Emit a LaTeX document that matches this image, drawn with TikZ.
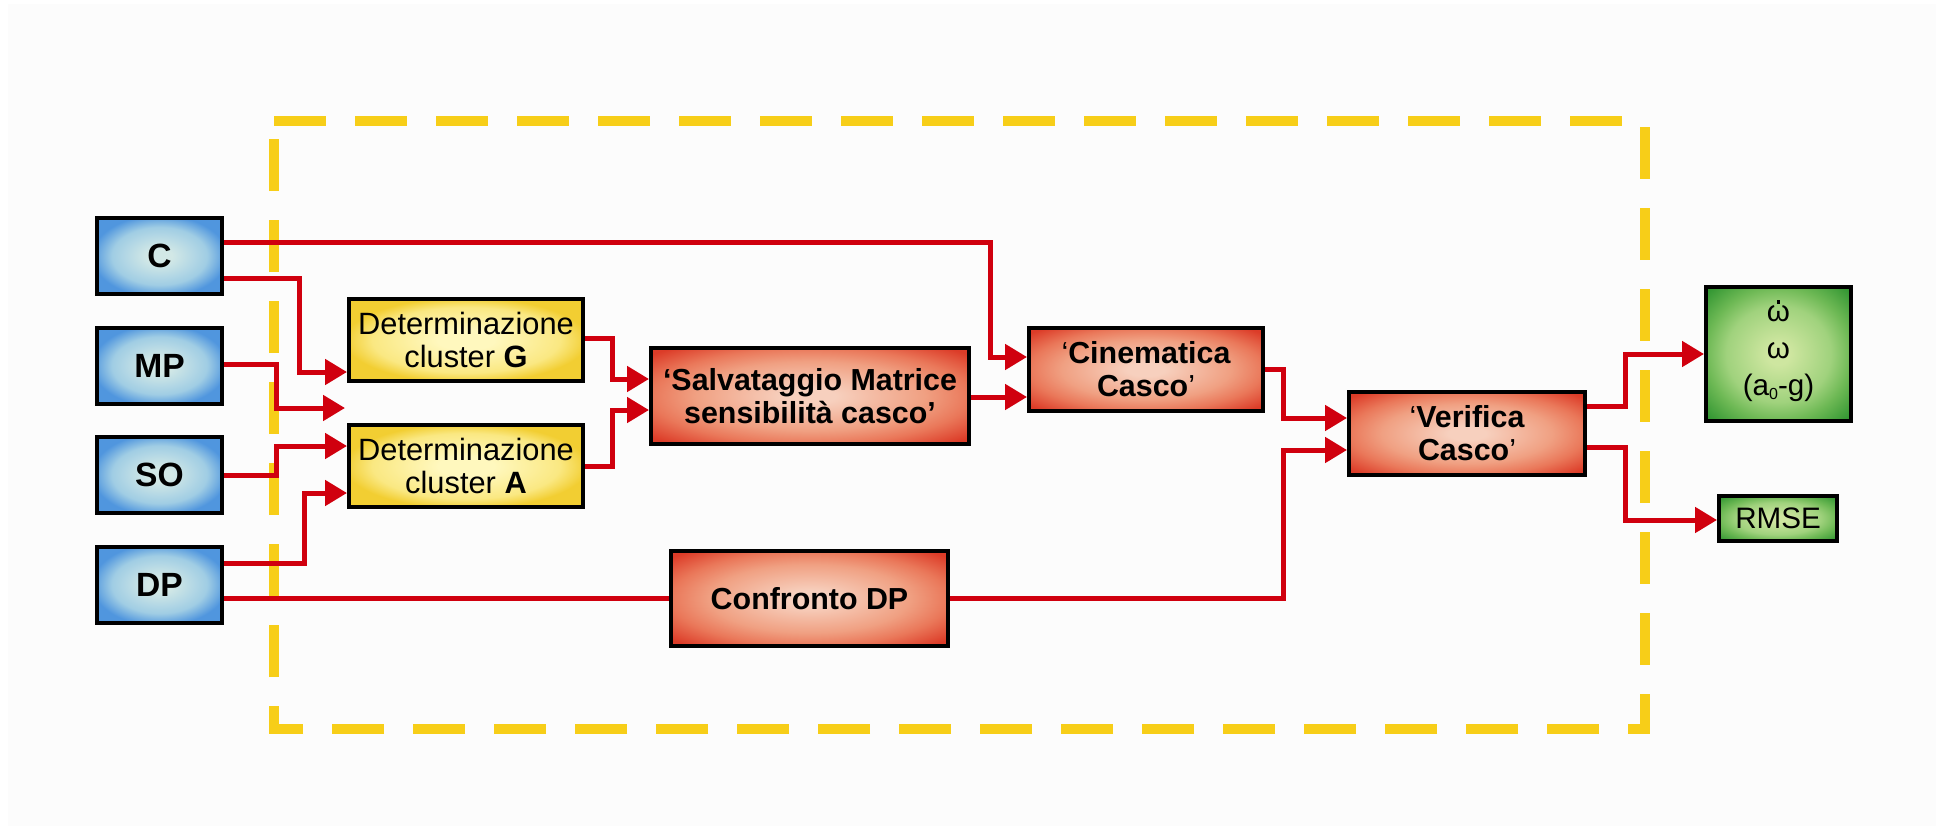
\documentclass[tikz,border=0pt]{standalone}
\usepackage{fontspec}
\setmainfont{Liberation Sans}
\usetikzlibrary{arrows.meta}
\definecolor{bgc}{RGB}{252,252,252}
\definecolor{dashy}{RGB}{247,206,24}
\definecolor{lred}{RGB}{208,0,14}
\definecolor{rIn}{RGB}{247,208,190}
\definecolor{rMid}{RGB}{240,160,130}
\definecolor{rEdge}{RGB}{234,120,90}
\definecolor{rOut}{RGB}{220,60,40}
\definecolor{yIn}{RGB}{255,248,190}
\definecolor{yMid}{RGB}{250,232,130}
\definecolor{yOut}{RGB}{242,206,50}
\definecolor{bIn}{RGB}{210,232,230}
\definecolor{bMid}{RGB}{160,205,228}
\definecolor{bOut}{RGB}{80,150,222}
\definecolor{gIn}{RGB}{206,230,160}
\definecolor{gMid}{RGB}{160,210,125}
\definecolor{gEdge}{RGB}{110,185,85}
\definecolor{gOut}{RGB}{50,150,50}
\pgfdeclareradialshading{redsh}{\pgfpoint{0bp}{0bp}}{color(0bp)=(rIn); color(4bp)=(rIn); color(18bp)=(rMid); color(25bp)=(rEdge); color(33bp)=(rOut); color(50bp)=(rOut)}
\pgfdeclareradialshading{yelsh}{\pgfpoint{0bp}{0bp}}{color(0bp)=(yIn); color(6bp)=(yIn); color(20bp)=(yMid); color(26bp)=(yOut); color(50bp)=(yOut)}
\pgfdeclareradialshading{bluesh}{\pgfpoint{0bp}{0bp}}{color(0bp)=(bIn); color(5bp)=(bIn); color(19bp)=(bMid); color(27bp)=(bOut); color(50bp)=(bOut)}
\pgfdeclareradialshading{greensh}{\pgfpoint{0bp}{0bp}}{color(0bp)=(gIn); color(4bp)=(gIn); color(18bp)=(gMid); color(25bp)=(gEdge); color(34bp)=(gOut); color(50bp)=(gOut)}
\newcommand{\omdot}{{\ooalign{ω\cr\hidewidth\raisebox{0.62em}{\rule{0.13em}{0.13em}}\hidewidth\cr}}}
\tikzset{
  box/.style={draw=black, line width=2pt, rectangle, inner sep=0pt, align=center},
  inbox/.style={box, shading=bluesh, minimum width=62.5pt, minimum height=38pt, font=\fontsize{16.8}{18}\selectfont\bfseries},
  ybox/.style={box, shading=yelsh, minimum width=117pt, minimum height=41pt, font=\fontsize{15.4}{16.2}\selectfont},
  rbox/.style={box, shading=redsh, font=\fontsize{15.2}{16.4}\selectfont\bfseries},
  gbox/.style={box, shading=greensh, font=\fontsize{14.8}{18.5}\selectfont},
  conn/.style={draw=lred, line width=2.5pt},
  arr/.style={conn, -{Triangle[length=11pt,width=12.5pt]}}
}
\begin{document}
\begin{tikzpicture}[x=0.5pt,y=-0.5pt]
\useasboundingbox (0,0) rectangle (1943,830);
\fill[white] (0,0) rectangle (1943,830);
\fill[bgc] (8,4) rectangle (1936,826);
% dashed frame
\draw[dashy, line width=5pt, dash pattern=on 26pt off 14.5pt] (274,121) -- (1645,121) -- (1645,729) -- (274,729) -- cycle;
% input nodes
\node[inbox] (C)  at (159.5,256) {C};
\node[inbox] (MP) at (159.5,365.5) {MP};
\node[inbox] (SO) at (159.5,474.5) {SO};
\node[inbox] (DP) at (159.5,584.5) {DP};
% cluster nodes
\node[ybox] (DG) at (466,340) {Determinazione\\cluster \textbf{G}};
\node[ybox] (DA) at (466,466) {Determinazione\\cluster \textbf{A}};
% processing nodes
\node[rbox, minimum width=159pt, minimum height=48pt] (SM) at (810,396) {‘Salvataggio Matrice\\sensibilità casco’};
\node[rbox, minimum width=117pt, minimum height=41.5pt] (CC) at (1146,369.5) {{\mdseries‘}Cinematica\\Casco{\mdseries’}};
\node[rbox, minimum width=118pt, minimum height=41.5pt] (VC) at (1467,433.5) {{\mdseries‘}Verifica\\Casco{\mdseries’}};
\node[rbox, minimum width=138.5pt, minimum height=47.5pt] (CD) at (809.5,598.5) {Confronto DP};
% outputs
\node[gbox, minimum width=72.5pt, minimum height=67pt] (OM) at (1778.5,354) {\omdot\\ω\\(a{\raisebox{-0.25ex}{\fontsize{8}{8}\selectfont 0}}-g)};
\node[gbox, minimum width=59pt, minimum height=22.5pt] (RM) at (1778,518.5) {RMSE};
\coordinate (mpend) at (345,408);
% connectors
\draw[arr] (C.east |- 0,242) -| (990,357) -- (CC.west |- 0,357);
\draw[arr] (C.east |- 0,278) -| (299,372) -- (DG.west |- 0,372);
\draw[arr] (MP.east |- 0,364) -| (276,408) -- (mpend);
\draw[arr] (SO.east |- 0,475) -| (276,446) -- (DA.west |- 0,446);
\draw[arr] (DP.east |- 0,563) -| (304,493) -- (DA.west |- 0,493);
\draw[conn] (DP.east |- 0,598) -- (CD.west |- 0,598);
\draw[arr] (CD.east |- 0,598) -| (1283,450) -- (VC.west |- 0,450);
\draw[arr] (DG.east |- 0,338) -| (612,379) -- (SM.west |- 0,379);
\draw[arr] (DA.east |- 0,466) -| (612,410) -- (SM.west |- 0,410);
\draw[arr] (SM.east |- 0,397) -- (CC.west |- 0,397);
\draw[arr] (CC.east |- 0,369) -| (1283,418) -- (VC.west |- 0,418);
\draw[arr] (VC.east |- 0,406) -| (1625,354) -- (OM.west |- 0,354);
\draw[arr] (VC.east |- 0,447) -| (1625,520) -- (RM.west |- 0,520);
\end{tikzpicture}
\end{document}
